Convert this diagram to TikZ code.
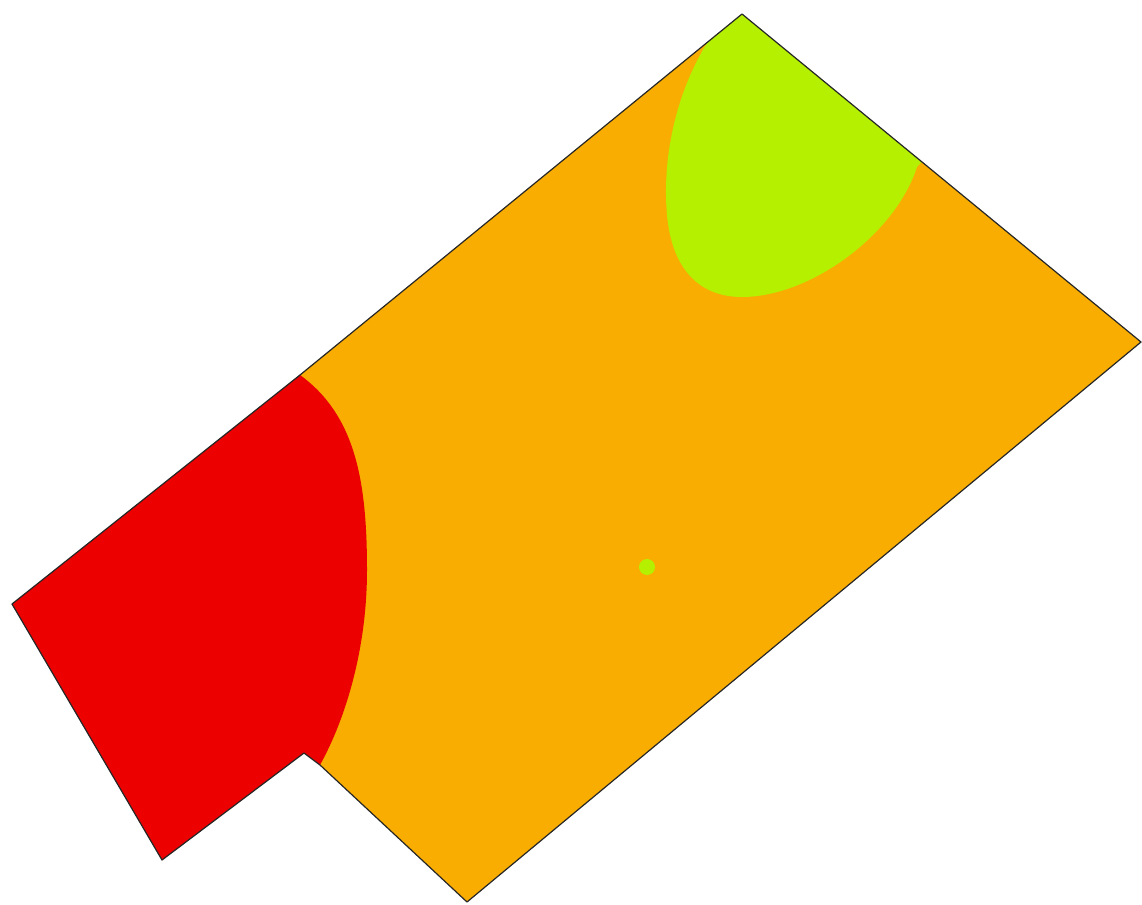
\documentclass[tikz,border=0pt]{standalone}
\definecolor{plotorange}{RGB}{249,173,0}
\definecolor{plotred}{RGB}{236,0,0}
\definecolor{plotgreen}{RGB}{180,240,0}
\tikzset{outline/.style={draw=black!85,line width=1.2pt,line join=round}}
\begin{document}
\begin{tikzpicture}[x=1pt,y=-1pt]
\useasboundingbox (0,0) rectangle (1142,904);
\coordinate (T) at (742,14);
\coordinate (R) at (1141,342);
\coordinate (B) at (467,902);
\coordinate (N1) at (320,765);
\coordinate (N2) at (304,753);
\coordinate (LB) at (162,860);
\coordinate (LL) at (12,604);
\coordinate (LT) at (300,375);
\begin{scope}
\clip (T) -- (R) -- (B) -- (N1) -- (N2) -- (LB) -- (LL) -- (LT) -- cycle;
\fill[plotorange] (0,0) rectangle (1142,904);
\fill[plotred] (LT) .. controls (355,415) and (367,480) .. (367,570)
  .. controls (367,650) and (345,720) .. (N1) -- (N2) -- (LB) -- (LL) -- cycle;
\fill[plotgreen] (707,43) .. controls (675,95) and (662,160) .. (667,215)
  .. controls (672,270) and (700,297) .. (742,297)
  .. controls (810,297) and (895,235) .. (917,167) -- (980,100) -- (760,-20) -- (680,20) -- cycle;
\end{scope}
\fill[plotgreen] (647,567) circle (8);
\draw[outline] (T) -- (R) -- (B) -- (N1) -- (N2) -- (LB) -- (LL) -- (LT) -- cycle;
\end{tikzpicture}
\end{document}
